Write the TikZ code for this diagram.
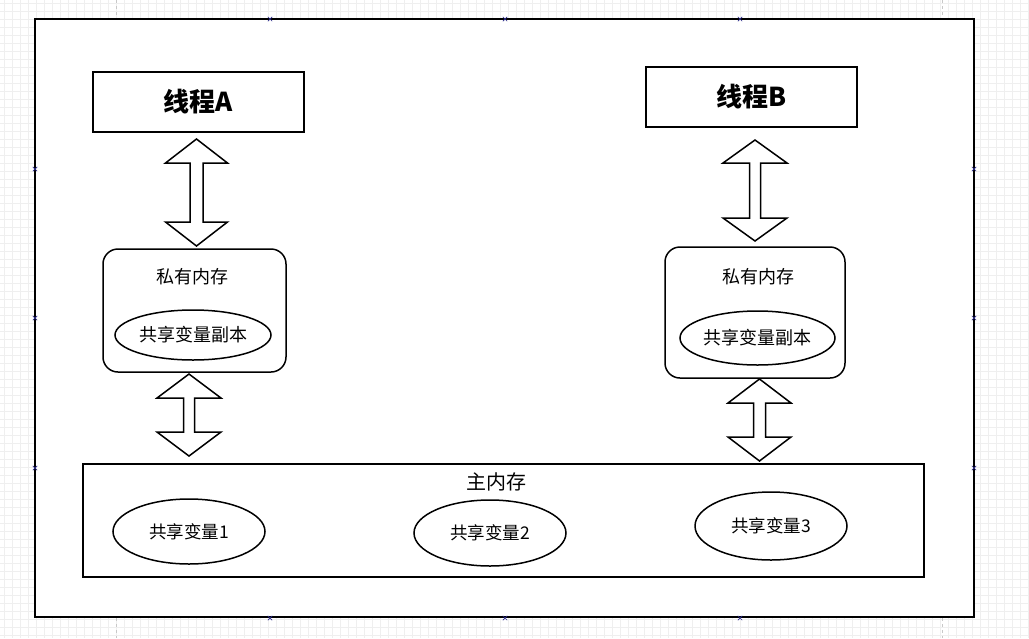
\documentclass[tikz,border=0pt]{standalone}
\usepackage{fontspec}
\setmainfont{Noto Sans CJK SC}
\usetikzlibrary{shapes.geometric}
\definecolor{gridc}{HTML}{EFEFEF}
\definecolor{pagec}{HTML}{C8C8C8}
\definecolor{markc}{HTML}{2A2A8A}
\newcommand{\dblarr}[6]{\draw[arrowshape] (#1,#2) -- ({#1+#4},{#2+#6}) -- ({#1+#5},{#2+#6}) -- ({#1+#5},{#3-#6}) -- ({#1+#4},{#3-#6}) -- (#1,#3) -- ({#1-#4},{#3-#6}) -- ({#1-#5},{#3-#6}) -- ({#1-#5},{#2+#6}) -- ({#1-#4},{#2+#6}) -- cycle;}
\newcommand{\xmark}[2]{\draw[markc,line width=0.7pt] ({#1-2.2},{#2-2.2}) -- ({#1+2.2},{#2+2.2}) ({#1-2.2},{#2+2.2}) -- ({#1+2.2},{#2-2.2});}
\begin{document}
\begin{tikzpicture}[x=1pt,y=-1pt,
  outerbox/.style={draw,line width=2pt,fill=white,inner sep=0pt},
  thrbox/.style={draw,line width=1.8pt,fill=white,inner sep=0pt,minimum width=211pt,minimum height=60pt,font=\fontsize{26}{28}\selectfont\bfseries},
  privbox/.style={draw,line width=1.5pt,rounded corners=15pt,inner sep=0pt},
  mainbox/.style={draw,line width=2pt,inner sep=0pt},
  ell/.style={draw,ellipse,line width=1.5pt,inner sep=0pt,font=\fontsize{17.5}{19}\selectfont},
  lbl/.style={inner sep=0pt,font=\fontsize{18}{20}\selectfont},
  arrowshape/.style={draw,line width=1.5pt,fill=white,line join=miter}]
\useasboundingbox (0,0) rectangle (1029,638);
\fill[white] (0,0) rectangle (1029,638);
% background grid
\foreach \gx in {4,12,...,1028} \draw[gridc,line width=0.5pt] (\gx,0) -- (\gx,638);
\foreach \gy in {3,11,...,637} \draw[gridc,line width=0.5pt] (0,\gy) -- (1029,\gy);
\draw[pagec,dashed,line width=0.6pt] (116,0) -- (116,638);
\draw[pagec,dashed,line width=0.6pt] (942,0) -- (942,638);
% outer frame
\node[outerbox,minimum width=939pt,minimum height=598pt] (outer) at (504.5,318) {};
% threads
\node[thrbox] (thrA) at (198.5,102) {线程A};
\node[thrbox] (thrB) at (751.5,97) {线程B};
% private memories
\node[privbox,minimum width=183pt,minimum height=123pt] (privA) at (194.5,310.5) {};
\node[privbox,minimum width=180pt,minimum height=131pt] (privB) at (755,312.5) {};
\node[lbl] (privAt) at (192,277) {私有内存};
\node[lbl] (privBt) at (758,277) {私有内存};
\node[ell,minimum width=156pt,minimum height=50pt,font=\fontsize{18}{20}\selectfont] (copyA) at (193,335) {共享变量副本};
\node[ell,minimum width=155pt,minimum height=54pt,font=\fontsize{18}{20}\selectfont] (copyB) at (757.5,338) {共享变量副本};
% main memory
\node[mainbox,minimum width=841pt,minimum height=113pt] (mainm) at (503.5,520.5) {};
\node[lbl,font=\fontsize{20}{22}\selectfont] (maint) at (496,482) {主内存};
\node[ell,minimum width=152pt,minimum height=65pt] (var1) at (189,531.5) {共享变量1};
\node[ell,minimum width=152pt,minimum height=66pt] (var2) at (490,533) {共享变量2};
\node[ell,minimum width=152pt,minimum height=68pt] (var3) at (771,526) {共享变量3};
% double arrows
\dblarr{196.5}{139}{246}{31}{6.5}{24}
\dblarr{189}{374}{456}{32}{5.5}{24}
\dblarr{755}{140}{241}{32}{5.5}{23}
\dblarr{759.5}{379}{461}{31.5}{6}{24}
% selection markers
\foreach \mx in {270,505,740} {\xmark{\mx}{19}\xmark{\mx}{618}}
\foreach \my in {169,318,468} {\xmark{35}{\my}\xmark{974}{\my}}
\end{tikzpicture}
\end{document}
